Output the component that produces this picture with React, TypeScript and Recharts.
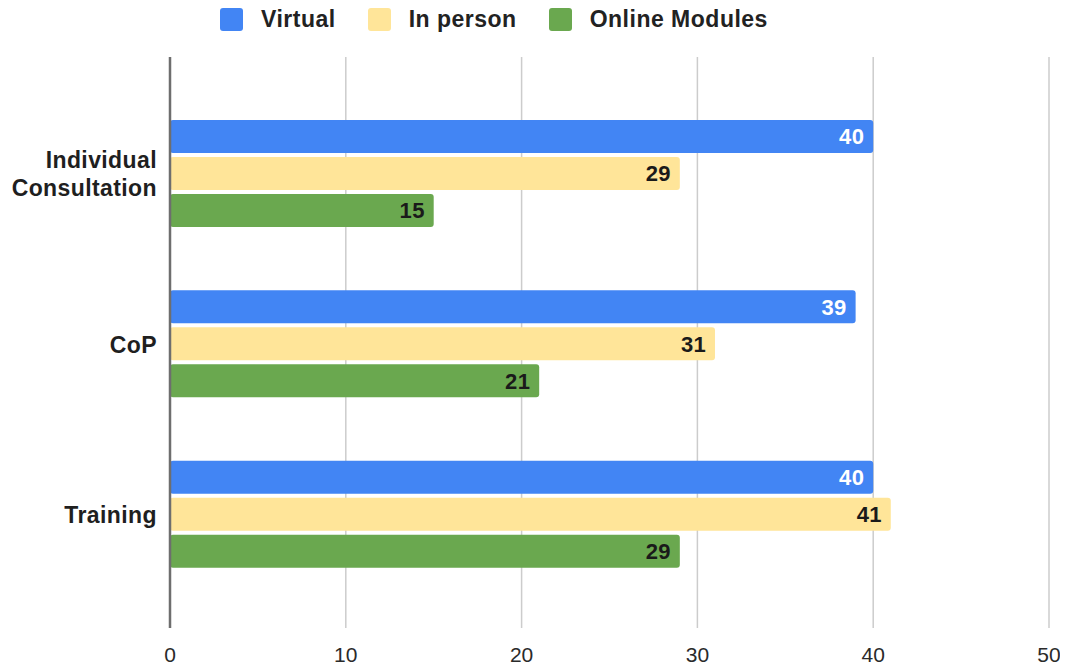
import React from "react";
import {
  BarChart,
  Bar,
  XAxis,
  YAxis,
  CartesianGrid,
  Legend,
  LabelList,
  ReferenceLine,
} from "recharts";

const categories = ["Individual Consultation", "CoP", "Training"];
const virtualValues = [40, 39, 40];
const inPersonValues = [29, 31, 41];
const onlineModulesValues = [15, 21, 29];
const xTicks = [0, 10, 20, 30, 40, 50];

const seriesInfo = [
  { key: "virtual", name: "Virtual", color: "#4285F4", labelColor: "#ffffff" },
  { key: "inPerson", name: "In person", color: "#FFE599", labelColor: "#1a1a1a" },
  { key: "online", name: "Online Modules", color: "#6AA84F", labelColor: "#1a1a1a" },
];

const data = categories.map((c, i) => ({
  category: c,
  virtual: virtualValues[i],
  inPerson: inPersonValues[i],
  online: onlineModulesValues[i],
}));

const FONT = "'Liberation Sans', Arial, sans-serif";

const YTick = (props: any) => {
  const { x, y, payload } = props;
  const label: string = payload.value;
  const lines = label.length > 12 ? label.split(" ") : [label];
  const lh = 28;
  const start = -((lines.length - 1) * lh) / 2;
  return (
    <g>
      {lines.map((ln, i) => (
        <text
          key={i}
          x={x}
          y={y + start + i * lh}
          dy="0.36em"
          textAnchor="end"
          fill="#1f1f1f"
          style={{ fontFamily: FONT, fontSize: 23, fontWeight: 700, letterSpacing: 0.4 }}
        >
          {ln}
        </text>
      ))}
    </g>
  );
};

const LegendContent = () => (
  <div style={{ display: "flex", alignItems: "center", fontFamily: FONT }}>
    {seriesInfo.map((s, i) => (
      <div
        key={s.key}
        style={{
          display: "flex",
          alignItems: "center",
          marginRight: i < seriesInfo.length - 1 ? 32 : 0,
        }}
      >
        <div
          style={{
            width: 23,
            height: 23,
            borderRadius: 3,
            background: s.color,
            marginRight: 18,
          }}
        />
        <span
          style={{
            fontSize: 23,
            fontWeight: 700,
            color: "#222",
            lineHeight: "23px",
            letterSpacing: 0.5,
          }}
        >
          {s.name}
        </span>
      </div>
    ))}
  </div>
);

export default function App() {
  return (
    <BarChart
      width={1060}
      height={658}
      data={data}
      layout="vertical"
      margin={{ top: 9, right: 19, bottom: 8, left: 0 }}
      barCategoryGap={31}
      barGap={4}
    >
      <CartesianGrid horizontal={false} stroke="#cccccc" strokeWidth={1.5} />
      <XAxis
        type="number"
        domain={[0, 50]}
        ticks={xTicks}
        axisLine={false}
        tickLine={false}
        tickSize={0}
        tickMargin={19}
        height={30}
        tick={{ fill: "#2a2a2a", fontSize: 21, fontFamily: FONT }}
      />
      <YAxis
        type="category"
        dataKey="category"
        width={162}
        axisLine={false}
        tickLine={false}
        tickSize={0}
        tickMargin={13}
        padding={{ top: 32, bottom: 28 }}
        tick={<YTick />}
      />
      <Legend
        verticalAlign="top"
        align="left"
        content={<LegendContent />}
        wrapperStyle={{ top: 0, left: 212, height: 40, width: 620 }}
      />
      <ReferenceLine x={0} stroke="#6e6e6e" strokeWidth={2.5} />
      {seriesInfo.map((s) => (
        <Bar
          key={s.key}
          dataKey={s.key}
          name={s.name}
          fill={s.color}
          radius={3}
          isAnimationActive={false}
        >
          <LabelList
            dataKey={s.key}
            position="insideRight"
            offset={9}
            fill={s.labelColor}
            style={{ fontFamily: FONT, fontSize: 22, fontWeight: 700, letterSpacing: 0.3 }}
          />
        </Bar>
      ))}
    </BarChart>
  );
}
